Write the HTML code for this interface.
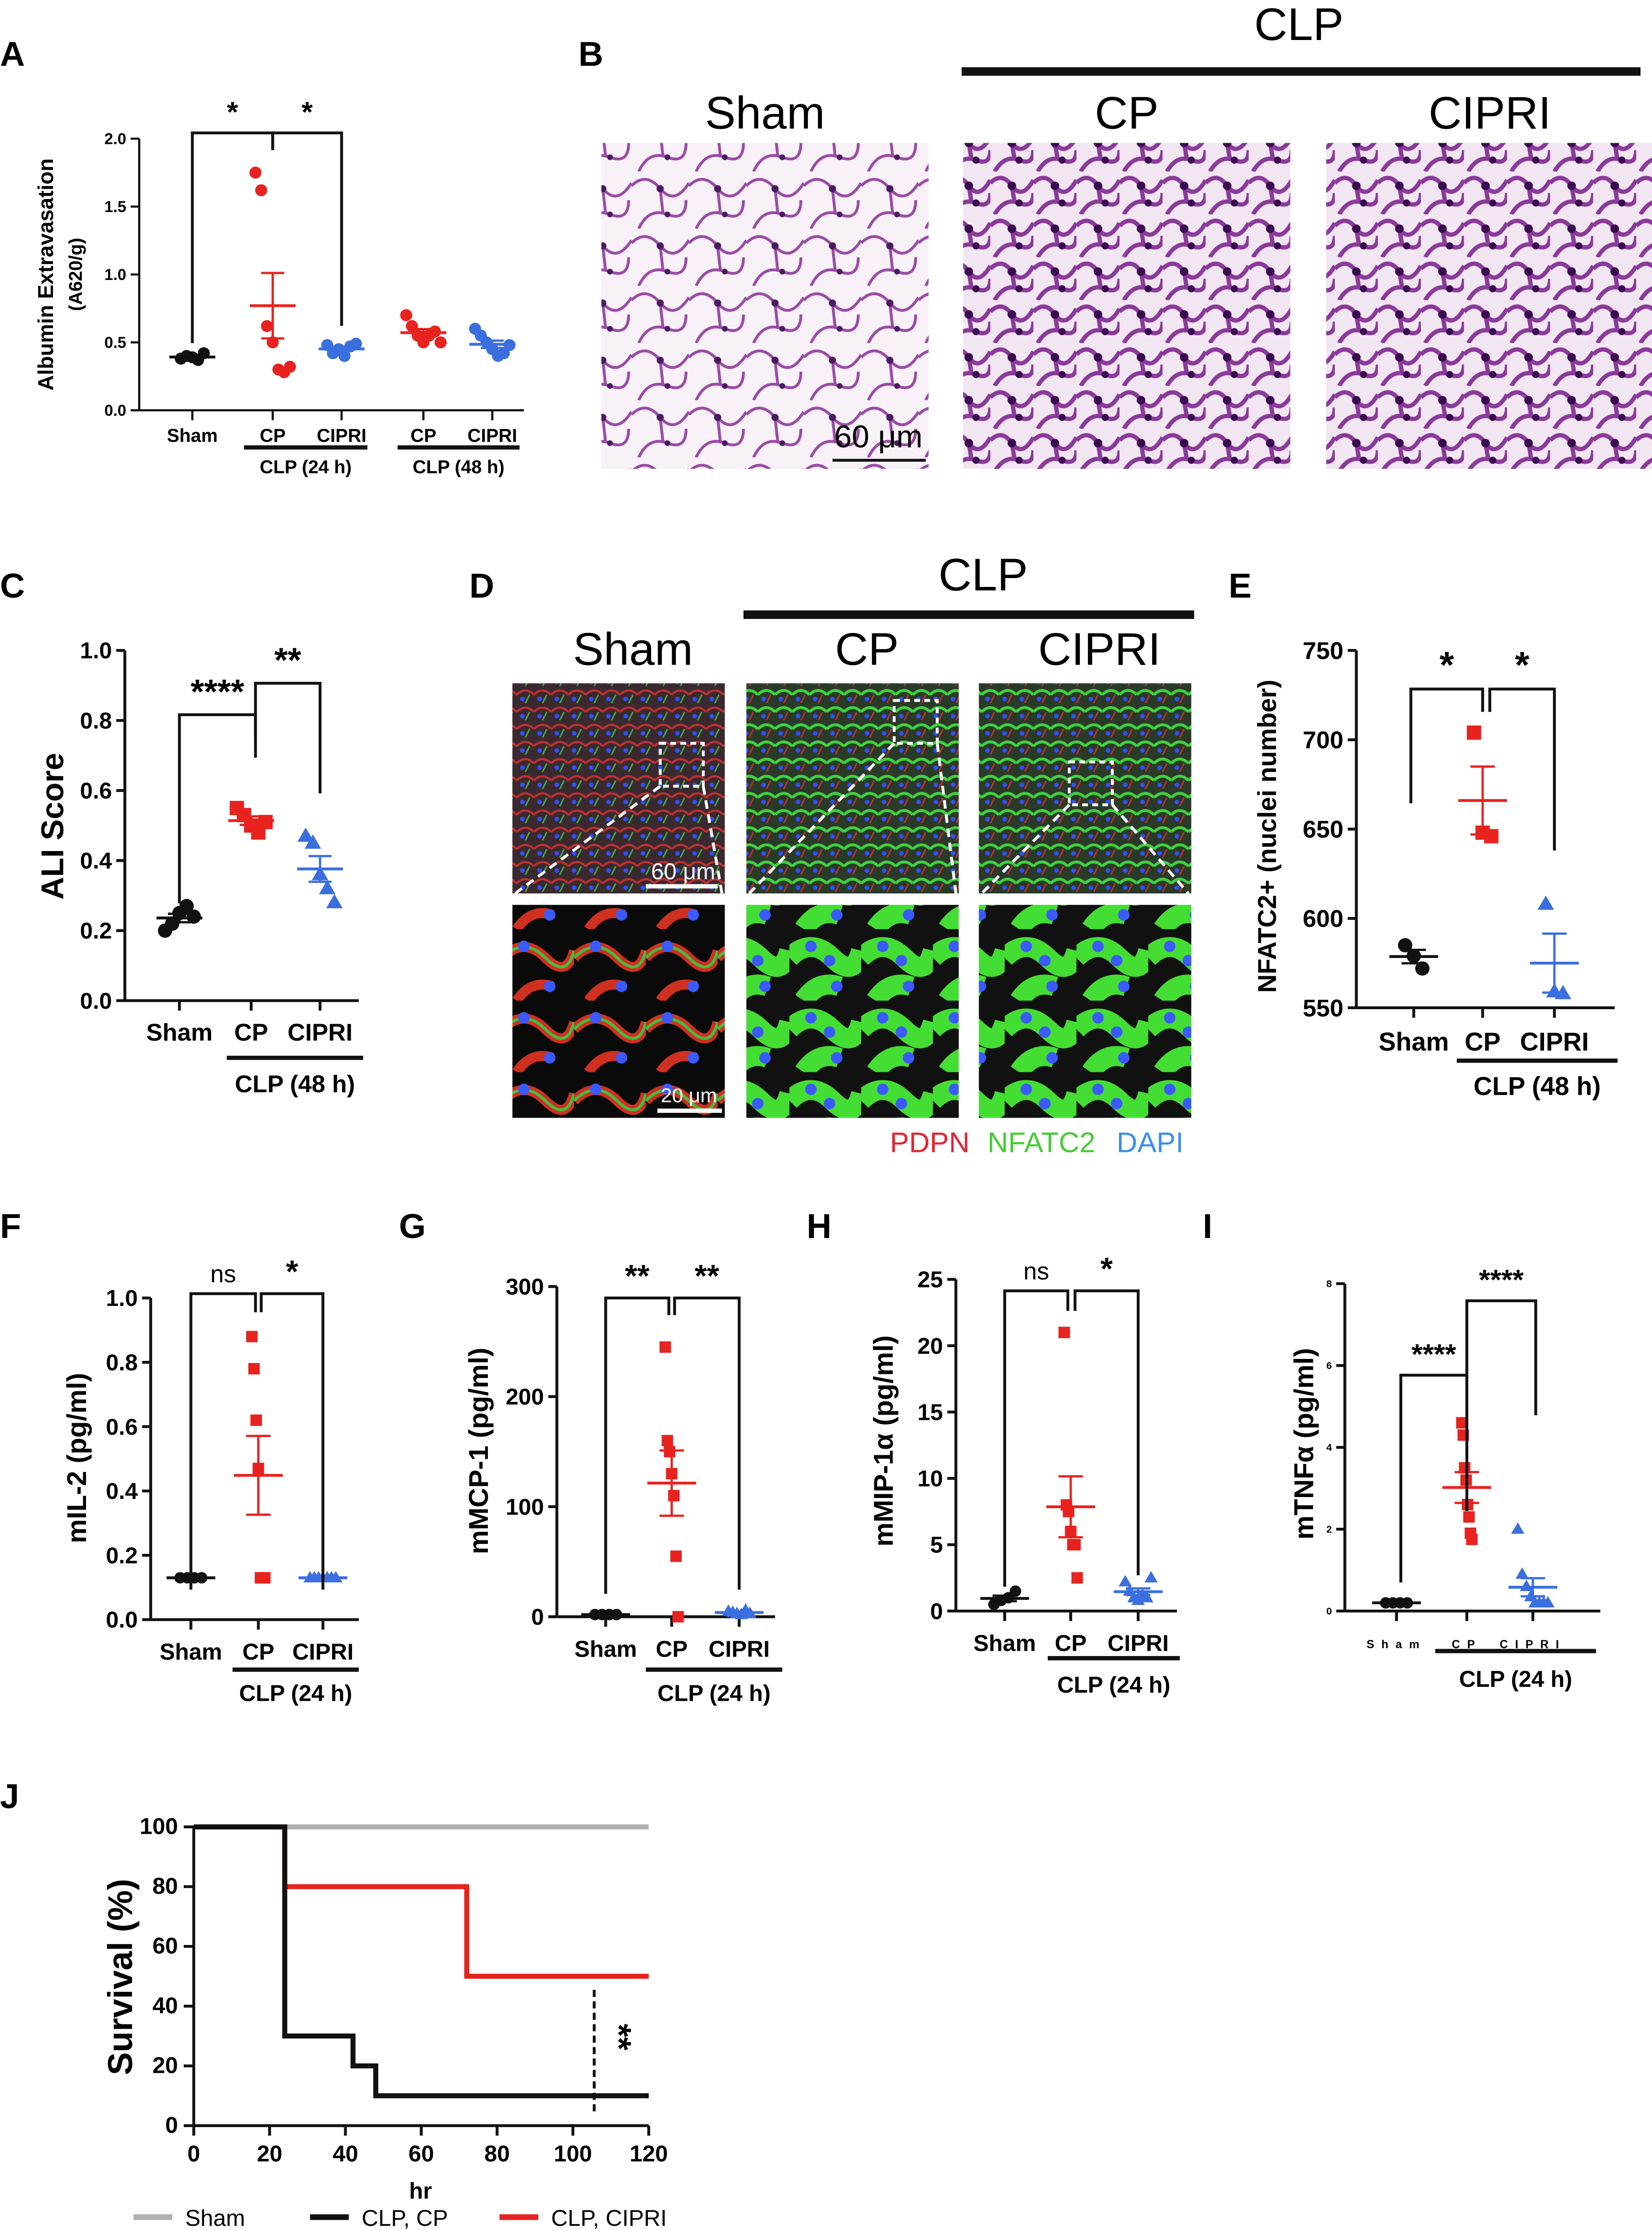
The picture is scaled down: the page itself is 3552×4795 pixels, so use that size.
<!DOCTYPE html>
<html><head><meta charset="utf-8"><style>
html,body{margin:0;padding:0;background:#fff}
svg{display:block}
text{font-family:"Liberation Sans",Arial,sans-serif}
</style></head><body>
<svg id="fig" width="3552" height="4795" viewBox="0 0 1151 1560" preserveAspectRatio="none" xmlns="http://www.w3.org/2000/svg">
<defs>
<pattern id="histo" width="40" height="40" patternUnits="userSpaceOnUse">
<rect width="40" height="40" fill="#f8f2f8"/>
<path d="M0 10 Q10 0 20 12 T40 8 M5 40 Q12 25 25 30 T38 20 M20 12 L22 30" stroke="#9a4aa6" stroke-width="2" fill="none"/>
<circle cx="20" cy="12" r="2.5" fill="#4a1a60"/><circle cx="25" cy="30" r="2" fill="#4a1a60"/>
</pattern>
<pattern id="histo2" width="30" height="30" patternUnits="userSpaceOnUse">
<rect width="30" height="30" fill="#f2e6f2"/>
<path d="M0 8 Q8 0 15 10 T30 6 M3 30 Q10 18 20 22 T30 15 M15 10 L17 22" stroke="#8a3a9a" stroke-width="3" fill="none"/>
<circle cx="15" cy="10" r="3" fill="#3a0a50"/><circle cx="20" cy="22" r="2.5" fill="#3a0a50"/>
</pattern>
<pattern id="fluoA" width="12" height="12" patternUnits="userSpaceOnUse">
<rect width="12" height="12" fill="#3a2a30"/>
<path d="M0 6 Q6 0 12 6" stroke="#c03030" stroke-width="1.5" fill="none"/>
<circle cx="4" cy="9" r="1.6" fill="#3050ff"/><path d="M6 12 L9 6" stroke="#40b040" stroke-width="1"/>
</pattern>
<pattern id="fluoB" width="12" height="12" patternUnits="userSpaceOnUse">
<rect width="12" height="12" fill="#2a3a28"/>
<path d="M0 6 Q6 0 12 6" stroke="#40d040" stroke-width="2" fill="none"/>
<circle cx="4" cy="9" r="1.6" fill="#3050ff"/><path d="M6 12 L9 6" stroke="#c03030" stroke-width="1"/>
</pattern>
<pattern id="zoomA" width="50" height="50" patternUnits="userSpaceOnUse">
<rect width="50" height="50" fill="#0a0a0a"/>
<path d="M0 20 Q15 5 30 20 T50 15 M10 50 Q20 35 35 40" stroke="#d03020" stroke-width="7" fill="none"/>
<path d="M0 20 Q15 5 30 20 T50 15" stroke="#40c040" stroke-width="2" fill="none"/>
<circle cx="15" cy="12" r="4" fill="#3a5aff"/><circle cx="33" cy="40" r="4" fill="#3a5aff"/>
</pattern>
<pattern id="zoomB" width="50" height="50" patternUnits="userSpaceOnUse">
<rect width="50" height="50" fill="#111"/>
<path d="M0 20 Q15 5 30 20 T50 15 M10 50 Q20 35 35 40" stroke="#44dd33" stroke-width="14" fill="none"/>
<circle cx="15" cy="12" r="4" fill="#3a5aff"/><circle cx="33" cy="40" r="4" fill="#3a5aff"/><circle cx="28" cy="22" r="4" fill="#3a5aff"/>
</pattern>
</defs>
<g id="root"></g>
</svg>
<script>
const NS="http://www.w3.org/2000/svg";
const root=document.getElementById('root');
function el(tag,attrs,parent,txt){const e=document.createElementNS(NS,tag);for(const k in attrs)e.setAttribute(k,attrs[k]);if(txt!==undefined)e.textContent=txt;(parent||root).appendChild(e);return e;}
const BLK="#111",RED="#e8231f",BLU="#3b6fe0";

// ---- data ----
const aGroups=["Sham","CP","CIPRI","CP","CIPRI"];
const aTicks=[0,0.5,1.0,1.5,2.0];
const aSham=[0.38,0.40,0.39,0.37,0.42];
const aCP24=[1.75,1.62,0.62,0.50,0.30,0.28,0.32];
const aCIPRI24=[0.48,0.42,0.45,0.40,0.47,0.49];
const aCP48=[0.70,0.62,0.55,0.50,0.55,0.58,0.50];
const aCIPRI48=[0.60,0.55,0.50,0.45,0.40,0.42,0.48];

const cGroups=["Sham","CP","CIPRI"];
const cTicks=[0,0.2,0.4,0.6,0.8,1.0];
const cSham=[0.20,0.22,0.25,0.27,0.24];
const cCP=[0.55,0.53,0.50,0.48,0.51];
const cCIPRI=[0.47,0.45,0.36,0.32,0.28];

const eTicks=[550,600,650,700,750];
const eSham=[585,579,572];
const eCP=[704,648,646];
const eCIPRI=[608,559,558];

const fTicks=[0,0.2,0.4,0.6,0.8,1.0];
const fSham=[0.13,0.13,0.13,0.13];
const fCP=[0.88,0.78,0.62,0.47,0.13,0.13,0.13];
const fCIPRI=[0.13,0.13,0.13,0.13,0.13,0.13,0.13];

const gTicks=[0,100,200,300];
const gSham=[2,2,2,2];
const gCP=[245,160,150,130,110,55,0];
const gCIPRI=[5,4,3,2,6,3];

const hTicks=[0,5,10,15,20,25];
const hSham=[0.5,0.8,1.0,1.5];
const hCP=[21,8.0,7.5,6,5,5,2.5];
const hCIPRI=[2.2,1.5,1.0,0.8,1.2,1.0,2.5];

const iTicks=[0,2,4,6,8];
const iSham=[0.2,0.2,0.2,0.2];
const iCP=[4.6,4.3,3.5,3.2,2.6,2.3,1.9,1.75];
const iCIPRI=[2.0,0.9,0.6,0.35,0.2,0.2,0.2,0.2];

const jTicksX=[0,20,40,60,80,100,120];
const jTicksY=[0,20,40,60,80,100];
const jShamT=[0,120];const jShamS=[100,100];
const jCPT=[0,24,42,48,120];const jCPS=[100,30,20,10,10];
const jCIPRIT=[0,24,72,120];const jCIPRIS=[100,80,50,50];

// ---- helpers ----
function mean(a){return a.reduce((s,v)=>s+v,0)/a.length}
function sem(a){const m=mean(a);return Math.sqrt(a.reduce((s,v)=>s+(v-m)*(v-m),0)/(a.length-1))/Math.sqrt(a.length)}
function marker(g,shape,x,y,r,color){
  let m;
  if(shape==='c')m=el('circle',{cx:x,cy:y,r:r,fill:color},g);
  else if(shape==='s')m=el('rect',{x:x-r,y:y-r,width:2*r,height:2*r,fill:color},g);
  else m=el('polygon',{points:`${x},${y-r*1.2} ${x-r*1.15},${y+r*0.8} ${x+r*1.15},${y+r*0.8}`,fill:color},g);
  
  
}
function scatterPanel(o){
  const g=el('g',{},root);
  
  
  const ys=v=>o.yb-(v-o.ymin)/(o.ymax-o.ymin)*(o.yb-o.yt);
  el('line',{x1:o.ax,y1:o.yt,x2:o.ax,y2:o.yb,stroke:BLK,'stroke-width':o.sw},g);
  el('line',{x1:o.ax,y1:o.yb,x2:o.xend,y2:o.yb,stroke:BLK,'stroke-width':o.sw},g);
  o.ticks.forEach(t=>{const y=ys(t);
    el('line',{x1:o.ax-6,y1:y,x2:o.ax,y2:y,stroke:BLK,'stroke-width':o.sw},g);
    const tx=el('text',{x:o.ax-9,y:y+o.tfs*0.35,'text-anchor':'end','font-size':o.tfs,'font-weight':'bold'},g,o.fmt(t));
    });
  o.series.forEach((s,i)=>{
    const gx=o.gx[i];
    el('line',{x1:gx,y1:o.yb,x2:gx,y2:o.yb+7,stroke:BLK,'stroke-width':o.sw},g);
    const n=s.data.length;
    const jit=(s.jit!==undefined)?s.jit:o.jit;
    s.data.forEach((v,j)=>{const off=(j-(n-1)/2)*jit;marker(g,s.shape,gx+off,ys(v),o.mr,s.color);});
    const m=mean(s.data),e=sem(s.data);
    el('line',{x1:gx-o.mw,y1:ys(m),x2:gx+o.mw,y2:ys(m),stroke:s.color,'stroke-width':2},g);
    el('line',{x1:gx,y1:ys(m-e),x2:gx,y2:ys(m+e),stroke:s.color,'stroke-width':1.6},g);
    el('line',{x1:gx-o.mw/2,y1:ys(m+e),x2:gx+o.mw/2,y2:ys(m+e),stroke:s.color,'stroke-width':1.6},g);
    el('line',{x1:gx-o.mw/2,y1:ys(m-e),x2:gx+o.mw/2,y2:ys(m-e),stroke:s.color,'stroke-width':1.6},g);
    const lb=el('text',{x:gx,y:o.yb+o.lby,'text-anchor':'middle','font-size':o.lfs,'font-weight':'bold','letter-spacing':o.ls||0},g,s.label);
    
  });
  return {g,ys};
}
function bracket(g,x1,y1,x2,y2,yt,label,fs,bold){
  el('polyline',{points:`${x1},${y1} ${x1},${yt} ${x2},${yt} ${x2},${y2}`,fill:'none',stroke:BLK,'stroke-width':2},g);
  const t=el('text',{x:(x1+x2)/2,y:yt-8,'text-anchor':'middle','font-size':fs,'font-weight':bold?'bold':'normal'},g,label);
  
}
function txt(x,y,s,fs,opt){const o=Object.assign({x:x,y:y,'font-size':fs,'font-weight':'bold'},opt||{});const nm=o.name||'label';delete o.name;const t=el('text',o,root,s);return t;}
function ylab(x,y,s,fs){const t=el('text',{x:0,y:0,transform:`translate(${x},${y}) rotate(-90)`,'text-anchor':'middle','font-size':fs,'font-weight':'bold'},root,s);return t;}
function groupLine(x1,x2,y,label,ly,fs){el('line',{x1:x1,y1:y,x2:x2,y2:y,stroke:BLK,'stroke-width':3});const t=el('text',{x:(x1+x2)/2,y:ly,'text-anchor':'middle','font-size':fs,'font-weight':'bold'},root,label);}
function plabel(x,y,s){const t=el('text',{x:x,y:y,'font-size':24,'font-weight':'bold'},root,s);}

// ---- Panel A ----
plabel(0,46,"A");
let A=scatterPanel({name:'panel-a-chart',ax:97,yt:97,yb:287,ymin:0,ymax:2,xend:365,sw:1.5,ticks:aTicks,fmt:t=>t.toFixed(1),tfs:11,
 gx:[134,190,238,295,343],jit:4,mr:4.2,mw:16,lby:22,lfs:13,
 series:[{data:aSham,shape:'c',color:BLK,label:aGroups[0]},{data:aCP24,shape:'c',color:RED,label:aGroups[1]},{data:aCIPRI24,shape:'c',color:BLU,label:aGroups[2]},{data:aCP48,shape:'c',color:RED,label:aGroups[3]},{data:aCIPRI48,shape:'c',color:BLU,label:aGroups[4]}]});
bracket(A.g,134,240,190,105,93,"*",20,true);bracket(A.g,190,105,238,228,93,"*",20,true);
groupLine(170,256,313,"CLP (24 h)",331,13);groupLine(277,362,313,"CLP (48 h)",331,13);
ylab(37,192,"Albumin Extravasation",15);ylab(57,192,"(A620/g)",13);

// ---- Panel B ----
plabel(403,46,"B");
[[419,"Sham","url(#histo)"],[671,"CP","url(#histo2)"],[924,"CIPRI","url(#histo2)"]].forEach(([x,l,f])=>{
 const r=el('rect',{x:x,y:100,width:228,height:228,fill:f});
 txt(x+114,90,l,32,{'text-anchor':'middle','font-weight':'normal',name:'image-label'});});
el('line',{x1:670,y1:50,x2:1143,y2:50,stroke:BLK,'stroke-width':6});
txt(905,28,"CLP",32,{'text-anchor':'middle','font-weight':'normal',name:'clp-label'});
el('line',{x1:580,y1:322,x2:645,y2:322,stroke:BLK,'stroke-width':2});
txt(612,313,"60 μm",22,{'text-anchor':'middle','font-weight':'normal',name:'scale-bar-label'});

// ---- Panel C ----
plabel(0,418,"C");
let C=scatterPanel({name:'panel-c-chart',ax:87,yt:455,yb:700,ymin:0,ymax:1,xend:250,sw:2,ticks:cTicks,fmt:t=>t.toFixed(1),tfs:16,
 gx:[125,175,223],jit:5,mr:5,mw:16,lby:28,lfs:17,
 series:[{data:cSham,shape:'c',color:BLK,label:'Sham'},{data:cCP,shape:'s',color:RED,label:'CP'},{data:cCIPRI,shape:'t',color:BLU,label:'CIPRI'}]});
bracket(C.g,125,632,178,530,500,"****",24,true);bracket(C.g,178,515,223,555,478,"**",24,true);
groupLine(158,253,740,"CLP (48 h)",764,17);ylab(44,578,"ALI Score",22);

// ---- Panel D ----
plabel(327,418,"D");
[[357,"Sham","url(#fluoA)","url(#zoomA)",460,520],[520,"CP","url(#fluoB)","url(#zoomB)",623,490],[682,"CIPRI","url(#fluoB)","url(#zoomB)",745,533]].forEach(([x,l,f,z,bx,by])=>{
 let r=el('rect',{x:x,y:478,width:148,height:147,fill:f});
 r=el('rect',{x:x,y:633,width:148,height:149,fill:z});
 el('rect',{x:bx,y:by,width:30,height:30,fill:'none',stroke:'#fff','stroke-width':2,'stroke-dasharray':'4 3'});
 el('line',{x1:bx,y1:by+30,x2:x+2,y2:625,stroke:'#fff','stroke-width':2,'stroke-dasharray':'6 4'});
 el('line',{x1:bx+30,y1:by+30,x2:x+146,y2:625,stroke:'#fff','stroke-width':2,'stroke-dasharray':'6 4'});
 txt(x+84,465,l,32,{'text-anchor':'middle','font-weight':'normal',name:'image-label'});});
el('line',{x1:518,y1:430,x2:832,y2:430,stroke:BLK,'stroke-width':6});
txt(685,413,"CLP",32,{'text-anchor':'middle','font-weight':'normal',name:'clp-label'});
el('line',{x1:450,y1:620,x2:500,y2:620,stroke:'#fff','stroke-width':3});
txt(476,615,"60 μm",16,{'text-anchor':'middle','font-weight':'normal',fill:'#fff',name:'scale-bar-label'});
el('line',{x1:458,y1:777,x2:503,y2:777,stroke:'#fff','stroke-width':3});
txt(480,771,"20 μm",14,{'text-anchor':'middle','font-weight':'normal',fill:'#fff',name:'scale-bar-label'});
txt(620,806,"PDPN",20,{fill:'#e8232f','font-weight':'normal',name:'legend-pdpn'});
txt(688,806,"NFATC2",20,{fill:'#44cc33','font-weight':'normal',name:'legend-nfatc2'});
txt(778,806,"DAPI",20,{fill:'#3a8ef0','font-weight':'normal',name:'legend-dapi'});

// ---- Panel E ----
plabel(856,418,"E");
let E=scatterPanel({name:'panel-e-chart',ax:945,yt:455,yb:705,ymin:550,ymax:750,xend:1125,sw:2,ticks:eTicks,fmt:t=>String(t),tfs:17,
 gx:[985,1033,1083],jit:6,mr:5,mw:17,lby:30,lfs:18,
 series:[{data:eSham,shape:'c',color:BLK,label:'Sham'},{data:eCP,shape:'s',color:RED,label:'CP'},{data:eCIPRI,shape:'t',color:BLU,label:'CIPRI'}]});
bracket(E.g,983,562,1033,498,482,"*",26,true);bracket(E.g,1038,498,1083,595,482,"*",26,true);
groupLine(1015,1127,742,"CLP (48 h)",766,18);ylab(889,585,"NFATC2+ (nuclei number)",18);

// ---- Panel F ----
plabel(0,866,"F");
let F=scatterPanel({name:'panel-f-chart',ax:105,yt:908,yb:1133,ymin:0,ymax:1,xend:250,sw:2,ticks:fTicks,fmt:t=>t.toFixed(1),tfs:16,
 gx:[133,180,225],jit:5,mr:4,mw:17,lby:28,lfs:16,
 series:[{data:fSham,shape:'c',color:BLK,label:'Sham'},{data:fCP,shape:'s',color:RED,label:'CP',jit:1.5},{data:fCIPRI,shape:'t',color:BLU,label:'CIPRI',jit:3}]});
bracket(F.g,133,1112,178,918,905,"ns",17,false);bracket(F.g,182,918,225,1112,905,"*",22,true);
groupLine(162,250,1168,"CLP (24 h)",1190,16);ylab(60,1020,"mIL-2 (pg/ml)",19);

// ---- Panel G ----
plabel(278,866,"G");
let G=scatterPanel({name:'panel-g-chart',ax:388,yt:900,yb:1131,ymin:0,ymax:300,xend:540,sw:2,ticks:gTicks,fmt:t=>String(t),tfs:16,
 gx:[422,468,515],jit:5,mr:4,mw:17,lby:28,lfs:16,
 series:[{data:gSham,shape:'c',color:BLK,label:'Sham'},{data:gCP,shape:'s',color:RED,label:'CP',jit:1.5},{data:gCIPRI,shape:'t',color:BLU,label:'CIPRI',jit:3}]});
bracket(G.g,422,1115,466,920,908,"**",22,true);bracket(G.g,470,920,515,1112,908,"**",22,true);
groupLine(450,545,1168,"CLP (24 h)",1190,16);ylab(340,1015,"mMCP-1 (pg/ml)",19);

// ---- Panel H ----
plabel(562,866,"H");
let H=scatterPanel({name:'panel-h-chart',ax:666,yt:895,yb:1127,ymin:0,ymax:25,xend:820,sw:2,ticks:hTicks,fmt:t=>String(t),tfs:16,
 gx:[700,746,793],jit:5,mr:4,mw:17,lby:28,lfs:16,
 series:[{data:hSham,shape:'c',color:BLK,label:'Sham'},{data:hCP,shape:'s',color:RED,label:'CP',jit:1.5},{data:hCIPRI,shape:'t',color:BLU,label:'CIPRI',jit:3}]});
bracket(H.g,700,1110,744,917,903,"ns",17,false);bracket(H.g,749,917,793,1102,903,"*",22,true);
groupLine(730,822,1160,"CLP (24 h)",1184,16);ylab(622,1008,"mMIP-1α (pg/ml)",19);

// ---- Panel I ----
plabel(838,866,"I");
let I=scatterPanel({name:'panel-i-chart',ax:937,yt:898,yb:1127,ymin:0,ymax:8,xend:1115,sw:2,ticks:iTicks,fmt:t=>String(t),tfs:7,
 gx:[973,1022,1068],jit:5,mr:4,mw:17,lby:26,lfs:8,ls:5,
 series:[{data:iSham,shape:'c',color:BLK,label:'Sham'},{data:iCP,shape:'s',color:RED,label:'CP',jit:1},{data:iCIPRI,shape:'t',color:BLU,label:'CIPRI',jit:3}]});
bracket(I.g,976,1107,1022,1057,962,"****",20,true);bracket(I.g,1022,977,1070,990,910,"****",20,true);
groupLine(1000,1112,1155,"CLP (24 h)",1180,16);ylab(915,1010,"mTNFα (pg/ml)",19);

// ---- Panel J ----
plabel(0,1265,"J");
(function(){
 const g=el('g',{});
 const xs=v=>135+v/120*317, ys=v=>1487-v/100*209;
 el('line',{x1:135,y1:1278,x2:135,y2:1487,stroke:BLK,'stroke-width':2},g);
 el('line',{x1:135,y1:1487,x2:452,y2:1487,stroke:BLK,'stroke-width':2},g);
 jTicksX.forEach(t=>{el('line',{x1:xs(t),y1:1487,x2:xs(t),y2:1494,stroke:BLK,'stroke-width':2},g);
  const tx=el('text',{x:xs(t),y:1512,'text-anchor':'middle','font-size':16,'font-weight':'bold'},g,String(t));});
 jTicksY.forEach(t=>{el('line',{x1:128,y1:ys(t),x2:135,y2:ys(t),stroke:BLK,'stroke-width':2},g);
  const tx=el('text',{x:124,y:ys(t)+5,'text-anchor':'end','font-size':16,'font-weight':'bold'},g,String(t));});
 function step(T,S,color,name){let p=`${xs(T[0])},${ys(S[0])}`;for(let i=1;i<T.length;i++){p+=` ${xs(T[i])},${ys(S[i-1])} ${xs(T[i])},${ys(S[i])}`;}
  const l=el('polyline',{points:p,fill:'none',stroke:color,'stroke-width':3.5},g);}
 step(jShamT,jShamS,'#b0b0b0','survival-line-sham');
 step(jCIPRIT,jCIPRIS,RED,'survival-line-cipri');
 step(jCPT,jCPS,BLK,'survival-line-cp');
 el('line',{x1:414,y1:1392,x2:414,y2:1480,stroke:BLK,'stroke-width':2,'stroke-dasharray':'5 3'},g);
 const s=el('text',{x:0,y:0,transform:'translate(423,1425) rotate(90)','text-anchor':'middle','font-size':24,'font-weight':'bold'},g,"**");
})();
ylab(92,1383,"Survival (%)",24);
txt(293,1538,"hr",16,{'text-anchor':'middle',name:'x-axis-title'});
[[93,'#b0b0b0',"Sham"],[216,BLK,"CLP, CP"],[348,RED,"CLP, CIPRI"]].forEach(([x,c,l])=>{
 const ln=el('line',{x1:x,y1:1551,x2:x+27,y2:1551,stroke:c,'stroke-width':4});
 txt(x+36,1557,l,16,{'font-weight':'normal',name:'legend-entry'});});
</script>
</body></html>
